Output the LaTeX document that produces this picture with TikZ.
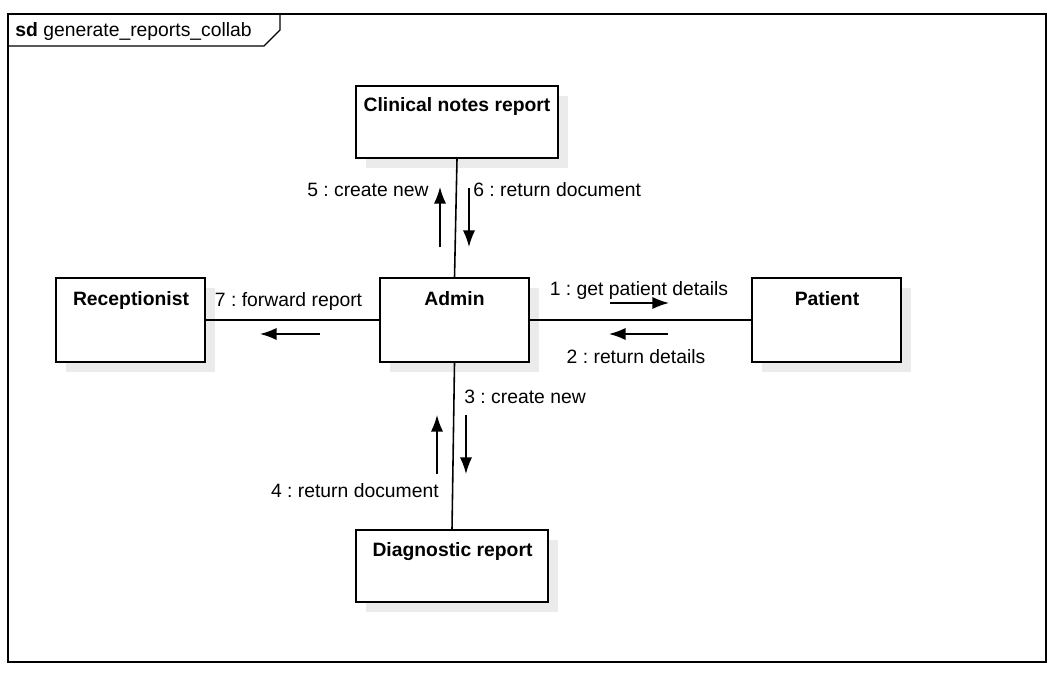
\documentclass[tikz,border=0pt]{standalone}
\usepackage{fontspec}
\setmainfont{Liberation Sans}
\usetikzlibrary{arrows.meta,calc,shadows}
\tikzset{>={Latex[length=9.5pt,width=7pt]}}
\tikzstyle{object}=[rectangle,draw=black,fill=white,line width=0.8pt,drop shadow={shadow xshift=5.7pt,shadow yshift=-5.7pt,fill=black!8,opacity=1}]
\tikzstyle{link}=[line width=0.9pt]
\tikzstyle{msg}=[->,line width=0.9pt]
\tikzstyle{msglab}=[inner sep=0pt,anchor=base]
\frenchspacing

\begin{document}
\begin{tikzpicture}[x=0.02cm,y=-0.02cm,font=\fontsize{11}{13}\selectfont]
	\useasboundingbox (0,0) rectangle (1060,679);
	
	\draw[line width=0.8pt] (8,14) rectangle (1046,662);
	\draw[line width=0.8pt] (8,46) -- (264,46) -- (280,30) -- (280,14);
	\node[inner sep=0pt, anchor=base west] (sdlab) at (15,37) {\textbf{sd}\ generate\_reports\_collab};
	
	
	\node[object, minimum width=4.04cm, minimum height=1.44cm] (clin) at (457,122) {};
	\node[object, minimum width=2.98cm, minimum height=1.68cm] (recep) at (130.5,320) {};
	\node[object, minimum width=2.98cm, minimum height=1.68cm] (admin) at (454.5,320) {};
	\node[object, minimum width=2.98cm, minimum height=1.68cm] (pat) at (826.5,320) {};
	\node[object, minimum width=3.84cm, minimum height=1.44cm] (diag) at (452,566) {};
	
	\node[msglab] (cliniclab) at (457,112) {\textbf{Clinical notes report}};
	\node[msglab] (receplab) at (131,305) {\textbf{Receptionist}};
	\node[msglab] (adminlab) at (454.5,305) {\textbf{Admin}};
	\node[msglab] (patlab) at (827,305) {\textbf{Patient}};
	\node[msglab] (diaglab) at (452.5,556) {\textbf{Diagnostic report}};
	
	\draw[link] (clin.south) -- (admin.north);
	\draw[link] (admin.south) -- (diag.north);
	\draw[link] (recep) -- (admin);
	\draw[link] (admin) -- (pat);
	
	
	\coordinate (m1s) at (610,303);
	\coordinate (m1e) at (669,303);
	\coordinate (m2s) at (668,334);
	\coordinate (m2e) at (609,334);
	\coordinate (m3s) at (466,415);
	\coordinate (m3e) at (466,474);
	\coordinate (m4s) at (437,474);
	\coordinate (m4e) at (437,415);
	\coordinate (m5s) at (440,247);
	\coordinate (m5e) at (440,187);
	\coordinate (m6s) at (469,188);
	\coordinate (m6e) at (469,247);
	\coordinate (m7s) at (320,334);
	\coordinate (m7e) at (260,334);
	
	\draw[msg] (m1s) -- (m1e);
	\draw[msg] (m2s) -- (m2e);
	\draw[msg] (m3s) -- (m3e);
	\draw[msg] (m4s) -- (m4e);
	\draw[msg] (m5s) -- (m5e);
	\draw[msg] (m6s) -- (m6e);
	\draw[msg] (m7s) -- (m7e);
	
	\node[msglab] (m1lab) at (639,295) {1 : get patient details};
	\node[msglab] (m2lab) at (636,363) {2 : return details};
	\node[msglab, anchor=base west] (m3lab) at (464,403) {3 : create new};
	\node[msglab, anchor=base east] (m4lab) at (439,497) {4 : return document};
	\node[msglab, anchor=base east] (m5lab) at (429,196) {5 : create new};
	\node[msglab, anchor=base west] (m6lab) at (473,196) {6 : return document};
	\node[msglab] (m7lab) at (288.5,306) {7 : forward report};
\end{tikzpicture}
\end{document}
